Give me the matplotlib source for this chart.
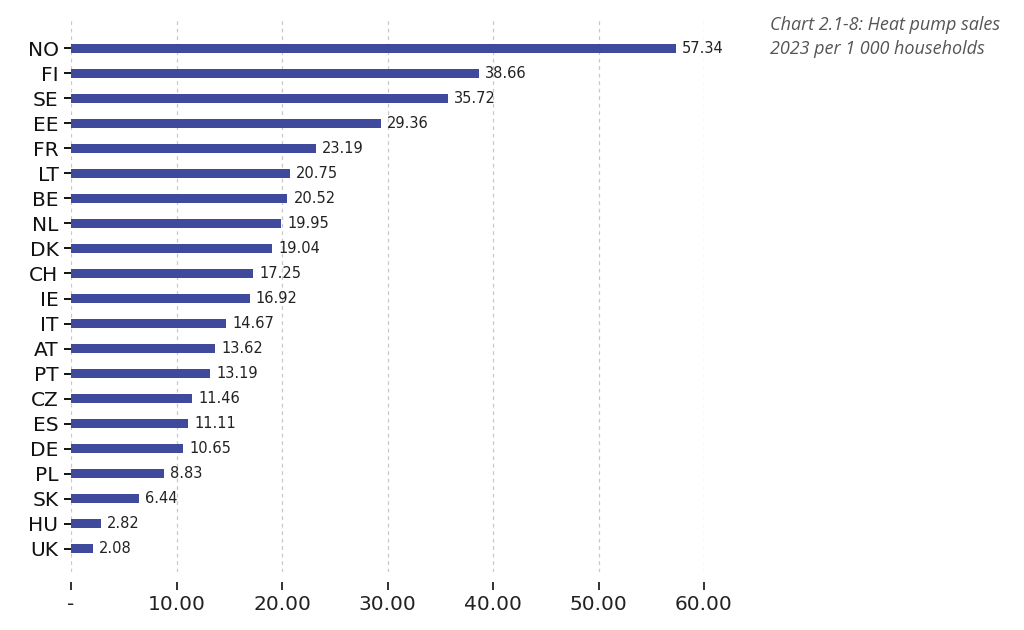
import matplotlib
matplotlib.use("Agg")
import matplotlib.pyplot as plt
from matplotlib.ticker import FuncFormatter

countries = ["NO", "FI", "SE", "EE", "FR", "LT", "BE", "NL", "DK", "CH", "IE",
             "IT", "AT", "PT", "CZ", "ES", "DE", "PL", "SK", "HU", "UK"]
values = [57.34, 38.66, 35.72, 29.36, 23.19, 20.75, 20.52, 19.95, 19.04, 17.25, 16.92,
          14.67, 13.62, 13.19, 11.46, 11.11, 10.65, 8.83, 6.44, 2.82, 2.08]
xticks = [0, 10, 20, 30, 40, 50, 60]
title_lines = ["Chart 2.1-8: Heat pump sales", "2023 per 1 000 households"]

fig = plt.figure(figsize=(10.24, 6.3), dpi=100)
ax = fig.add_axes([71/1024, 1 - 572/630, (704 - 71)/1024, (572 - 20)/630])

ypos = list(range(len(countries)))
ax.barh(ypos, values, height=0.36, color="#3F4A9C")
for y, v in zip(ypos, values):
    ax.text(v + 0.6, y, f"{v:.2f}", va="center", ha="left", fontsize=10.5,
            color="#222222", family="DejaVu Sans")

ax.set_yticks(ypos)
ax.set_yticklabels(countries, fontsize=14.5, color="#111111", family="DejaVu Sans")
ax.set_ylim(len(countries) - 1 + 0.92, -1.12)

ax.set_xlim(0, 60)
ax.set_xticks(xticks)
ax.xaxis.set_major_formatter(FuncFormatter(lambda x, p: "-" if x == 0 else f"{x:.2f}"))
ax.tick_params(axis="x", labelsize=14.5, length=5.5, width=1.3, pad=4, colors="#222222")
ax.tick_params(axis="y", length=5, width=1.3, pad=4)

for s in ax.spines.values():
    s.set_visible(False)
ax.spines["bottom"].set_position(("outward", 7))

ax.grid(axis="x", linestyle=(0, (3, 3)), color="#c8c8c8", linewidth=0.9)
ax.set_axisbelow(True)

fig.text(770/1024, 1 - 16/630, title_lines[0] + "\n" + title_lines[1],
         family=["Open Sans", "DejaVu Sans"], style="italic", fontsize=13,
         color="#555555", ha="left", va="top", linespacing=1.4)

fig.savefig("out.png", dpi=100)
